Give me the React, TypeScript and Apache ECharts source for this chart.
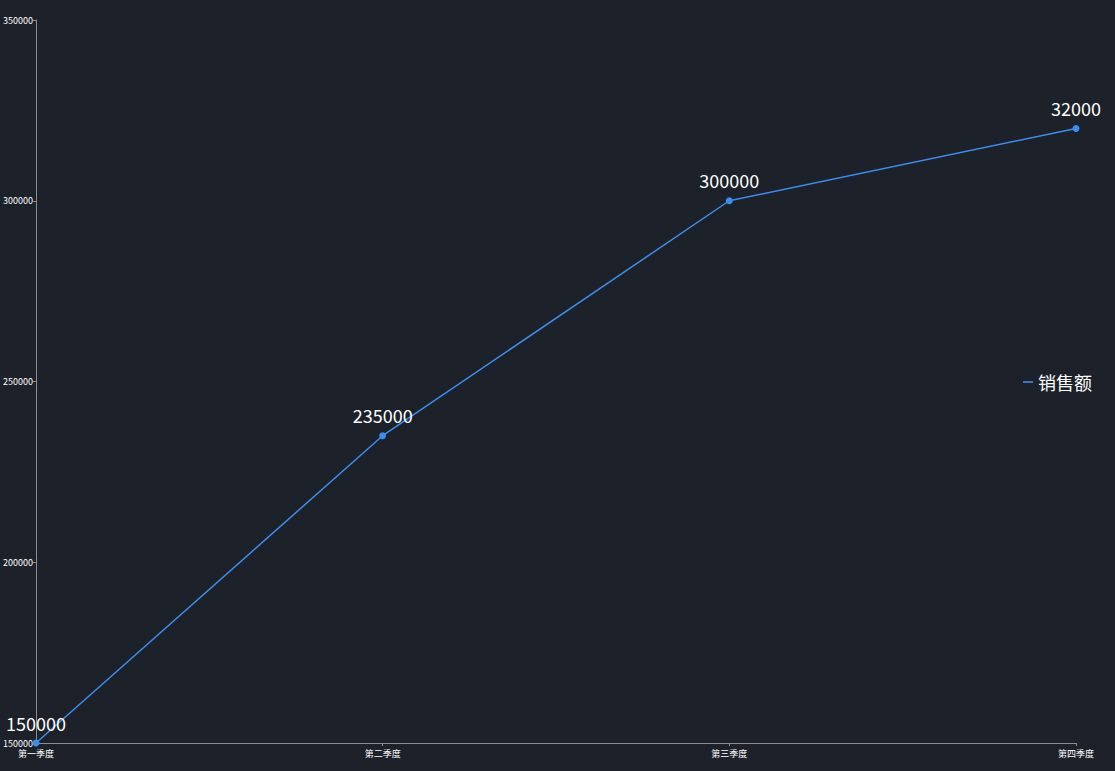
import React, { useEffect, useRef } from "react";
import * as echarts from "echarts";

const categories = ["第一季度", "第二季度", "第三季度", "第四季度"];
const salesValues = [150000, 235000, 300000, 320000];
const labelTexts = ["150000", "235000", "300000", "32000"];
const seriesName = "销售额";
const FONT = "Noto Sans CJK SC";

export default function App() {
  const ref = useRef<HTMLDivElement>(null);
  useEffect(() => {
    if (!ref.current) return;
    const chart = echarts.init(ref.current, null, { renderer: "svg" });
    chart.setOption({
      animation: false,
      backgroundColor: "#1d212a",
      textStyle: { fontFamily: FONT },
      grid: { left: 33, right: 39, top: 20, bottom: 28 },
      legend: {
        orient: "vertical",
        right: 18,
        top: 368,
        itemWidth: 10,
        itemHeight: 10,
        itemGap: 6,
        data: [{ name: seriesName, icon: "path://M0,0 L10,0 L10,1.6 L0,1.6 Z", itemStyle: { color: "#3a8ef0" } }],
        textStyle: { color: "#ffffff", fontSize: 18, fontFamily: FONT },
      },
      xAxis: {
        type: "category",
        data: categories,
        boundaryGap: false,
        axisLine: { lineStyle: { color: "#8a8d93" } },
        axisTick: { length: 3, lineStyle: { color: "#8a8d93" } },
        axisLabel: { color: "#ffffff", fontSize: 9, fontFamily: FONT, margin: 6 },
        splitLine: { show: false },
      },
      yAxis: {
        type: "value",
        min: 150000,
        max: 350000,
        interval: 50000,
        axisLine: { show: true, lineStyle: { color: "#8a8d93" } },
        axisTick: { show: true, length: 3, lineStyle: { color: "#8a8d93" } },
        axisLabel: { color: "#ffffff", fontSize: 9, margin: 3, fontFamily: FONT, formatter: (v: number) => String(v) },
        splitLine: { show: false },
      },
      series: [
        {
          name: seriesName,
          type: "line",
          data: salesValues,
          symbol: "circle",
          symbolSize: 7,
          itemStyle: { color: "#3a8ef0" },
          lineStyle: { color: "#3a8ef0", width: 1.5 },
          label: {
            show: true,
            position: "top",
            distance: 8,
            color: "#ffffff",
            fontSize: 18,
            fontFamily: FONT,
            formatter: (p: any) => labelTexts[p.dataIndex],
          },
        },
      ],
    });
    return () => chart.dispose();
  }, []);
  return <div ref={ref} style={{ width: 1115, height: 771, position: "absolute", left: 0, top: 0 }} />;
}
